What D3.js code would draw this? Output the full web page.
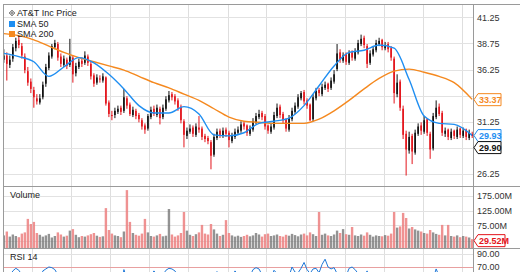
<!DOCTYPE html>
<html>
<head>
<meta charset="utf-8">
<script src="https://cdn.jsdelivr.net/npm/d3@7"></script>
<style>
  body { margin: 0; background: #fff; }
  svg { display: block; font-family: Arial, "Liberation Sans", sans-serif; }
</style>
</head>
<body>
<div id="chart"></div>
<script>
// Daily candles (AT&T Inc)
var opens = [
  37.2, 37.6, 36.7, 37.3, 38.3, 39.1, 38.5, 37.5, 36.1, 35.1,
  34.3, 33.5, 33.1, 33.6, 34.9, 36.4, 37.5, 38.4, 38.7, 37.5,
  36.7, 37.2, 36.7, 37.4, 35.9, 36.5, 37.1, 36.9, 37.5, 36.8,
  35.7, 35.0, 35.4, 35.2, 35.5, 33.1, 31.9, 31.9, 32.2, 32.6,
  32.3, 33.5, 32.9, 31.9, 32.3, 31.9, 31.4, 30.9, 30.6, 31.7,
  32.5, 31.9, 32.5, 31.7, 32.5, 33.3, 33.9, 33.7, 33.3, 32.7,
  31.3, 29.9, 30.3, 30.7, 30.0, 30.7, 30.6, 29.9, 29.7, 29.3,
  28.1, 29.7, 30.4, 29.9, 30.5, 30.2, 29.4, 29.8, 30.2, 30.4,
  31.1, 30.9, 30.1, 30.5, 31.2, 31.7, 32.1, 31.8, 30.9, 30.3,
  30.7, 31.8, 32.7, 32.0, 31.5, 30.5, 31.5, 32.2, 32.7, 33.5,
  34.1, 33.3, 32.9, 31.5, 33.5, 34.3, 33.9, 34.5, 34.9, 34.5,
  35.1, 36.3, 37.9, 37.1, 37.7, 36.9, 37.9, 37.3, 37.9, 38.7,
  39.3, 38.5, 36.9, 37.7, 38.1, 38.7, 39.1, 38.3, 38.7, 38.3,
  37.3, 33.9, 35.1, 32.5, 30.1, 28.5, 29.9, 28.3, 30.1, 30.9,
  30.3, 31.5, 30.1, 28.7, 31.7, 32.7, 32.1, 30.1, 30.5, 29.7,
  30.4, 29.8, 30.6, 29.9, 30.5, 29.7, 30.1
];
var highs = [
  38.2, 37.9, 37.6, 38.7, 39.3, 39.5, 38.8, 37.8, 36.5, 35.4,
  34.6, 33.9, 33.9, 35.1, 36.8, 37.9, 38.7, 39.1, 38.9, 37.8,
  37.6, 37.4, 39.2, 37.6, 36.9, 37.3, 37.4, 38.0, 37.7, 37.0,
  35.9, 35.8, 35.7, 35.9, 35.6, 33.3, 32.3, 32.6, 32.8, 32.8,
  34.4, 33.7, 33.1, 32.7, 32.5, 32.1, 31.6, 31.1, 32.0, 32.7,
  32.8, 32.9, 32.7, 32.9, 33.7, 34.2, 34.1, 33.9, 33.5, 32.9,
  31.5, 30.7, 31.0, 30.9, 31.1, 31.8, 30.8, 30.1, 29.9, 29.5,
  30.1, 30.6, 30.6, 30.7, 30.7, 30.4, 30.2, 30.6, 30.8, 31.3,
  31.3, 31.0, 30.9, 31.6, 32.1, 32.4, 32.3, 32.0, 31.0, 31.1,
  32.2, 33.0, 32.9, 32.2, 31.6, 31.9, 32.6, 33.1, 33.9, 34.2,
  34.3, 33.5, 33.0, 33.9, 34.5, 34.5, 34.9, 35.1, 35.0, 35.5,
  36.2, 38.7, 38.2, 37.9, 37.9, 38.1, 38.1, 38.3, 39.1, 39.6,
  39.5, 38.7, 38.1, 38.5, 39.1, 39.3, 39.2, 38.9, 38.9, 38.5,
  37.5, 35.8, 35.3, 32.8, 30.4, 30.3, 30.1, 30.5, 31.1, 31.2,
  31.8, 31.6, 30.3, 32.1, 33.3, 33.0, 32.3, 30.7, 30.6, 30.6,
  30.5, 30.8, 30.7, 30.7, 30.6, 30.5, 30.3
];
var lows = [
  36.9, 35.2, 36.4, 37.0, 38.0, 38.3, 37.3, 35.9, 34.7, 34.0,
  32.6, 32.9, 32.9, 33.4, 34.6, 36.2, 37.3, 38.2, 37.1, 36.5,
  36.5, 36.3, 36.5, 35.0, 35.6, 36.3, 36.5, 36.7, 36.6, 35.3,
  34.6, 34.8, 35.0, 35.0, 32.8, 31.7, 31.4, 31.6, 32.0, 31.9,
  32.1, 32.5, 31.8, 31.7, 31.5, 31.2, 30.5, 30.1, 30.4, 31.5,
  31.8, 31.7, 31.0, 31.5, 32.3, 33.1, 33.3, 32.9, 32.3, 31.1,
  28.8, 29.6, 30.1, 29.8, 29.8, 30.2, 29.5, 29.3, 29.1, 26.7,
  27.9, 29.5, 29.7, 29.7, 29.8, 28.8, 29.2, 29.6, 30.0, 30.2,
  30.5, 29.9, 29.9, 30.3, 31.0, 31.5, 31.4, 30.5, 30.1, 30.1,
  30.5, 31.6, 31.6, 31.1, 30.3, 30.3, 31.3, 32.0, 32.5, 33.3,
  32.9, 32.5, 31.3, 31.3, 33.3, 33.7, 33.7, 34.3, 34.1, 34.3,
  34.9, 36.1, 36.9, 36.9, 36.7, 36.7, 37.1, 37.1, 37.7, 38.5,
  38.3, 36.4, 36.7, 37.5, 37.9, 38.5, 38.1, 38.1, 37.9, 37.1,
  33.0, 33.6, 32.3, 29.6, 26.1, 28.2, 27.2, 28.1, 29.9, 30.0,
  30.1, 29.9, 27.7, 28.5, 31.5, 31.8, 29.9, 29.8, 29.5, 29.5,
  29.6, 29.6, 29.7, 29.7, 29.5, 29.5, 29.7
];
var closes = [
  37.6, 36.8, 37.2, 38.4, 39.0, 38.6, 37.6, 36.2, 35.0, 34.4,
  33.6, 33.2, 33.5, 34.8, 36.5, 37.6, 38.5, 38.8, 37.4, 36.8,
  37.3, 36.6, 37.5, 35.8, 36.6, 37.0, 36.8, 37.6, 36.9, 35.6,
  34.9, 35.5, 35.3, 35.6, 33.0, 32.0, 31.8, 32.3, 32.5, 32.2,
  33.6, 32.8, 32.0, 32.4, 31.8, 31.5, 30.8, 30.5, 31.8, 32.4,
  32.0, 32.6, 31.6, 32.6, 33.4, 33.8, 33.6, 33.2, 32.6, 31.4,
  30.0, 30.4, 30.6, 30.1, 30.8, 30.5, 29.8, 29.6, 29.4, 28.0,
  29.8, 30.3, 30.0, 30.4, 30.1, 29.5, 29.9, 30.3, 30.5, 31.0,
  30.8, 30.2, 30.6, 31.3, 31.8, 32.0, 31.7, 30.8, 30.4, 30.8,
  31.9, 32.6, 31.9, 31.4, 30.6, 31.6, 32.3, 32.8, 33.6, 34.0,
  33.2, 32.8, 31.4, 33.6, 34.2, 34.0, 34.6, 34.8, 34.4, 35.2,
  35.8, 37.8, 37.2, 37.6, 37.0, 37.8, 37.4, 38.0, 38.8, 39.2,
  38.6, 36.8, 37.8, 38.2, 38.8, 39.0, 38.4, 38.6, 38.2, 37.4,
  34.0, 35.0, 32.6, 30.0, 28.6, 29.8, 28.4, 30.2, 30.8, 30.4,
  31.4, 30.2, 28.6, 31.8, 32.6, 32.0, 30.2, 30.4, 29.8, 30.3,
  29.9, 30.5, 30.0, 30.4, 29.8, 30.2, 29.9
];
// Volume in millions
var volumes = [
  42, 55, 38, 45, 40, 36, 48, 52, 97, 80,
  87, 50, 44, 38, 42, 47, 35, 40, 52, 45,
  38, 41, 58, 63, 44, 36, 40, 38, 42, 46,
  50, 41, 37, 39, 133, 60, 48, 42, 40, 36,
  55, 193, 87, 50, 44, 41, 48, 97, 52, 40,
  38, 42, 47, 39, 41, 130, 45, 38, 42, 50,
  120, 58, 44, 40, 46, 52, 77, 48, 45, 80,
  62, 48, 40, 44, 93, 50, 42, 38, 41, 37,
  40, 44, 39, 42, 50, 45, 38, 46, 48, 40,
  42, 45, 40, 38, 44, 41, 47, 43, 39, 45,
  48, 42, 52, 46, 40, 120, 44, 48, 42, 40,
  45, 58, 50, 63, 46, 44, 70, 42, 40, 45,
  41, 52, 44, 38, 42, 40, 39, 43, 41, 48,
  120, 68, 72, 117, 100, 65, 70, 62, 58, 55,
  50, 48, 60, 52, 47, 44, 77, 42, 77, 40,
  38, 42, 36, 40, 38, 35, 29.52
];
// RSI 14 (only the part above ~62 is inside the picture)
var rsi = [
  55, 50, 56, 64, 68, 65, 58, 48, 42, 38,
  36, 38, 42, 64, 67, 70, 69, 66, 58, 54,
  56, 53, 57, 48, 52, 54, 53, 56, 52, 46,
  43, 46, 45, 47, 35, 32, 31, 36, 38, 37,
  66, 52, 46, 48, 44, 42, 38, 36, 50, 56,
  64, 58, 50, 58, 65, 68, 67, 64, 56, 46,
  38, 44, 46, 42, 48, 46, 40, 38, 36, 30,
  52, 63, 54, 58, 55, 48, 54, 64, 58, 60,
  57, 52, 56, 66, 69, 67, 58, 50, 47, 52,
  65, 60, 54, 50, 46, 56, 70, 62, 61, 68,
  77, 66, 60, 67, 68, 61, 74, 82, 70, 67,
  69, 60, 58, 61, 56, 68, 70, 66, 60, 58,
  55, 64, 50, 54, 59, 61, 54, 56, 52, 46,
  28, 36, 26, 22, 18, 30, 26, 38, 42, 40,
  46, 40, 30, 52, 67, 56, 44, 46, 42, 46,
  44, 50, 45, 49, 43, 48, 45
];
// Moving averages, read every 5 candles
var smaDays = [0, 5, 10, 15, 20, 25, 30, 35, 40, 45, 50, 55, 60, 65, 70, 75,
  80, 85, 90, 95, 100, 105, 110, 115, 120, 125, 130, 135, 140, 145, 150, 156];
var sma50 = [37.8, 37.5, 37.0, 35.6, 36.5, 37.4, 36.9, 35.8, 34.4, 32.8, 32.1, 32.1,
  32.7, 32.0, 30.0, 29.9, 30.2, 31.1, 31.3, 31.6, 32.8, 34.7, 36.6, 37.9,
  38.1, 38.6, 38.3, 35.3, 31.8, 31.1, 31.0, 29.95];
var sma200 = [39.7, 39.5, 39.1, 38.5, 37.9, 37.4, 37.0, 36.6, 36.2, 35.6, 35.0, 34.5,
  33.9, 33.3, 32.5, 31.7, 31.3, 31.2, 31.1, 31.1, 31.1, 31.5, 32.3, 33.3,
  34.4, 35.4, 36.1, 36.3, 36.0, 35.6, 35.0, 33.4];

// Grid levels, and the labels that are not hidden under the value tags
var priceTicks = [26.25, 28.75, 31.25, 33.75, 36.25, 38.75, 41.25];
var priceLabels = [26.25, 31.25, 36.25, 38.75, 41.25];
var volumeTicks = [25, 75, 125, 175];
var volumeLabels = [75, 125, 175];
var rsiTicks = [70, 90];
var gridDays = [9.2, 22.3, 35.3, 48.4, 61.4, 74.5, 87.5, 100.6, 113.6, 126.7, 139.8, 152.8];
var lastValues = {sma200: 33.37, sma50: 29.93, close: 29.90, volume: 29.52};

var width = 520, height = 272;
var left = 3, right = 473;
var mainTop = 4, mainBottom = 186, volBottom = 248;
var N = closes.length;

var svg = d3.select('#chart')
  .append('svg')
    .attr('width', width)
    .attr('height', height);

// Scales
var x = d3.scaleBand()
  .domain(d3.range(N))
  .range([left, right])
  .paddingInner(0.45);
var xDay = d3.scaleLinear().domain([-0.5, N - 0.5]).range([left, right]);
var xc = function(i) { return x(i) + x.bandwidth() / 2; };
var y = d3.scaleLinear().domain([26.25, 41.25]).range([174, 17.4]);
var yVol = d3.scaleLinear().domain([0, 175]).range([volBottom, 195.5]);
var yRsi = d3.scaleLinear().domain([70, 90]).range([267, 254]);

// Clip paths for the three panels
var defs = svg.append('defs');
function clip(id, y0, y1) {
  defs.append('clipPath').attr('id', id)
    .append('rect').attr('x', left).attr('y', y0).attr('width', right - left).attr('height', y1 - y0);
}
clip('clip-main', mainTop, mainBottom);
clip('clip-vol', mainBottom, volBottom);
clip('clip-rsi', volBottom, height);

// Vertical grid
svg.append('g')
  .selectAll('line')
  .data(gridDays)
  .enter()
  .append('line')
    .attr('x1', function(d) { return Math.round(xDay(d)) + 0.5; })
    .attr('x2', function(d) { return Math.round(xDay(d)) + 0.5; })
    .attr('y1', mainTop)
    .attr('y2', height)
    .attr('stroke', '#dedede');

// Horizontal grids
function hgrid(scale, ticks, color) {
  svg.append('g')
    .selectAll('line')
    .data(ticks)
    .enter()
    .append('line')
      .attr('x1', left)
      .attr('x2', right)
      .attr('y1', function(d) { return Math.round(scale(d)) + 0.5; })
      .attr('y2', function(d) { return Math.round(scale(d)) + 0.5; })
      .attr('stroke', color);
}
hgrid(y, priceTicks, '#e2e2e2');
hgrid(yVol, volumeTicks, '#e2e2e2');
hgrid(yRsi, [90], '#e2e2e2');
hgrid(yRsi, [70], '#e8a0a0');

// Volume bars
var volWidth = x.step() * 0.8;
svg.append('g')
  .attr('clip-path', 'url(#clip-vol)')
  .selectAll('rect')
  .data(volumes)
  .enter()
  .append('rect')
    .attr('x', function(d, i) { return xc(i) - volWidth / 2; })
    .attr('width', volWidth)
    .attr('y', function(d) { return yVol(d); })
    .attr('height', function(d) { return volBottom - yVol(d); })
    .attr('fill', function(d, i) { return closes[i] < opens[i] ? '#ec7f7f' : '#6f6f6f'; })
    .attr('fill-opacity', function(d, i) { return closes[i] < opens[i] ? 0.85 : 0.75; });

// Candles
var candles = svg.append('g')
  .attr('clip-path', 'url(#clip-main)')
  .selectAll('g')
  .data(d3.range(N))
  .enter()
  .append('g')
    .attr('fill', function(i) { return closes[i] < opens[i] ? '#e3141b' : '#111'; })
    .attr('stroke', function(i) { return closes[i] < opens[i] ? '#e3141b' : '#111'; });
candles.append('line')
  .attr('x1', xc).attr('x2', xc)
  .attr('y1', function(i) { return y(highs[i]); })
  .attr('y2', function(i) { return y(lows[i]); })
  .attr('stroke-width', 1);
candles.append('rect')
  .attr('stroke', 'none')
  .attr('x', function(i) { return x(i); })
  .attr('width', x.bandwidth())
  .attr('y', function(i) { return y(Math.max(opens[i], closes[i])); })
  .attr('height', function(i) { return Math.max(1, Math.abs(y(opens[i]) - y(closes[i]))); });

// Moving averages
function smaLine(values, color) {
  var line = d3.line()
    .x(function(d, k) { return xc(smaDays[k]); })
    .y(function(d) { return y(d); })
    .curve(d3.curveMonotoneX);
  svg.append('path')
    .attr('clip-path', 'url(#clip-main)')
    .attr('d', line(values))
    .attr('fill', 'none')
    .attr('stroke', color)
    .attr('stroke-width', 1.4);
}
smaLine(sma200, '#f5891f');
smaLine(sma50, '#1f8ef1');

// RSI line
var rsiLine = d3.line()
  .x(function(d, i) { return xc(i); })
  .y(function(d) { return yRsi(d); });
svg.append('path')
  .attr('clip-path', 'url(#clip-rsi)')
  .attr('d', rsiLine(rsi))
  .attr('fill', 'none')
  .attr('stroke', '#1f78d8')
  .attr('stroke-width', 1);

// Frame
var frame = svg.append('g').attr('stroke', '#9a9a9a').attr('shape-rendering', 'crispEdges');
frame.append('line').attr('x1', left).attr('x2', width).attr('y1', mainTop + 0.5).attr('y2', mainTop + 0.5);
frame.append('line').attr('x1', left).attr('x2', width).attr('y1', mainBottom + 0.5).attr('y2', mainBottom + 0.5);
frame.append('line').attr('x1', left).attr('x2', width).attr('y1', volBottom + 0.5).attr('y2', volBottom + 0.5);
frame.append('line').attr('x1', left + 0.5).attr('x2', left + 0.5).attr('y1', mainTop).attr('y2', height);
frame.append('line').attr('x1', right + 0.5).attr('x2', right + 0.5).attr('y1', mainTop).attr('y2', height);

// Right axes (labels only)
function rightAxis(scale, ticks, fmt) {
  var g = svg.append('g')
    .attr('transform', 'translate(' + right + ',0)')
    .call(d3.axisRight(scale).tickValues(ticks).tickFormat(fmt).tickSize(0).tickPadding(4));
  g.select('.domain').remove();
  g.selectAll('text')
    .attr('font-family', 'Arial, "Liberation Sans", sans-serif')
    .attr('font-size', 9)
    .attr('fill', '#333');
}
rightAxis(y, priceLabels, d3.format('.2f'));
rightAxis(yVol, volumeLabels, function(d) { return d3.format('.2f')(d) + 'M'; });
rightAxis(yRsi, rsiTicks, d3.format('.2f'));

// Last value tags
function tag(cy, label, color, w) {
  var g = svg.append('g').attr('transform', 'translate(' + (right + 1) + ',' + cy + ')');
  g.append('path')
    .attr('d', 'M0,0 L4,-6 L' + w + ',-6 L' + w + ',6 L4,6 Z')
    .attr('fill', '#fff')
    .attr('stroke', color)
    .attr('stroke-width', 1);
  g.append('text')
    .attr('x', 5)
    .attr('dy', '0.35em')
    .attr('font-size', 9)
    .attr('font-weight', 'bold')
    .attr('fill', color)
    .text(label);
}
var tagSma200 = y(lastValues.sma200);
var tagSma50 = Math.max(y(lastValues.sma50), tagSma200 + 13);
var tagClose = Math.max(y(lastValues.close), tagSma50 + 12);
tag(tagSma200, d3.format('.2f')(lastValues.sma200), '#f5891f', 27);
tag(tagSma50, d3.format('.2f')(lastValues.sma50), '#1f8ef1', 27);
tag(tagClose, d3.format('.2f')(lastValues.close), '#111', 27);
tag(Math.min(yVol(lastValues.volume) + 1.5, volBottom - 7), d3.format('.2f')(lastValues.volume) + 'M', '#e3141b', 31);

// Legend and panel titles
var legend = svg.append('g').attr('font-size', 9).attr('fill', '#222');
var icon = legend.append('g').attr('transform', 'translate(12,13)').attr('stroke', '#777').attr('fill', 'none');
icon.append('path').attr('d', 'M-2.5,0 L2.5,0 M0,-2.5 L0,2.5');
icon.append('path').attr('d', 'M0,-3 L3,0 L0,3 L-3,0 Z').attr('stroke-width', 0.8);
legend.append('text').attr('x', 17).attr('y', 16).text('AT&T Inc Price');
legend.append('rect').attr('x', 9).attr('y', 21).attr('width', 6).attr('height', 6).attr('fill', '#1f8ef1');
legend.append('text').attr('x', 17).attr('y', 27).text('SMA 50');
legend.append('rect').attr('x', 9).attr('y', 31).attr('width', 6).attr('height', 6).attr('fill', '#f5891f');
legend.append('text').attr('x', 17).attr('y', 37).text('SMA 200');
legend.append('text').attr('x', 10).attr('y', 198).text('Volume');
legend.append('text').attr('x', 10).attr('y', 260).text('RSI 14');
</script>
</body>
</html>
